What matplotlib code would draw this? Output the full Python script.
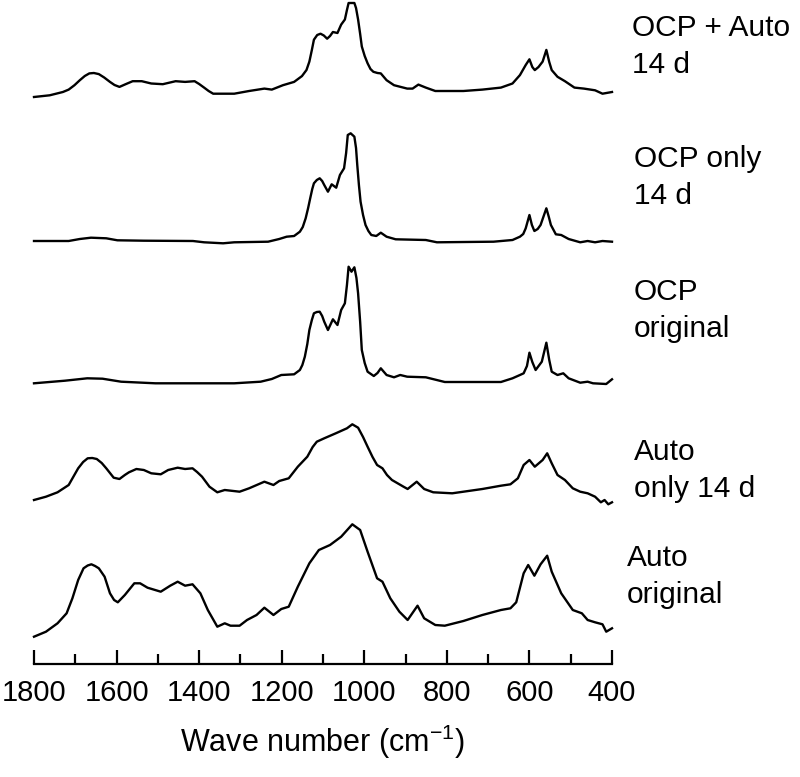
import matplotlib
matplotlib.use("Agg")
import matplotlib.pyplot as plt
import numpy as np

plt.rcParams['font.family'] = ['Liberation Sans', 'DejaVu Sans']
plt.rcParams['mathtext.fontset'] = 'custom'
plt.rcParams['mathtext.rm'] = 'Liberation Sans'
plt.rcParams['mathtext.it'] = 'Liberation Sans:italic'

# ---------------- data (wavenumber cm-1, relative absorbance) ----------------
wn_ocp_auto = [1800, 1762, 1730, 1716, 1702, 1689, 1677, 1666, 1655, 1643, 1630, 1616, 1605, 1593, 1577, 1561,
               1539, 1516, 1488, 1457, 1434, 1411, 1400, 1388, 1377, 1366, 1315, 1279, 1242, 1224, 1197, 1170,
               1151, 1140, 1133, 1127, 1122, 1114, 1106, 1098, 1090, 1083, 1076, 1065, 1056, 1047, 1042, 1038,
               1024, 1020, 1015, 1010, 1006, 999, 992, 985, 978, 968, 960, 946, 928, 896, 883, 869, 851, 828,
               760, 714, 669, 641, 623, 609, 600, 593, 587, 578, 568, 559, 552, 546, 532, 514, 491, 468, 441,
               423, 400]
ab_ocp_auto = [3.0, 4.7, 8.0, 10.4, 14.8, 19.8, 24.0, 26.6, 27.0, 25.9, 22.5, 18.1, 15.0, 13.1, 16.0, 18.8,
               18.8, 16.5, 15.8, 18.8, 18.1, 18.8, 16.0, 12.4, 9.0, 6.3, 6.3, 9.0, 11.4, 10.4, 14.8, 18.1,
               23.9, 30.0, 38.4, 50.0, 60.3, 65.0, 66.3, 64.5, 61.3, 64.0, 68.0, 67.0, 75.4, 80.5, 90.0, 97.0,
               97.0, 92.0, 80.5, 66.0, 53.5, 44.0, 36.7, 31.0, 28.2, 27.0, 26.6, 19.8, 14.8, 11.4, 11.4, 15.4, 12.4, 9.0,
               9.0, 10.4, 12.4, 16.5, 24.9, 35.0, 40.7, 33.0, 29.9, 33.0, 38.4, 50.1, 38.0, 29.9, 23.2, 18.8, 12.4, 11.4, 9.7,
               6.3, 8.0]

wn_ocp_14 = [1800, 1716, 1689, 1662, 1625, 1598, 1534, 1415, 1388, 1342, 1315, 1233, 1206, 1188, 1170,
             1156, 1149, 1142, 1136, 1131, 1126, 1122, 1115, 1108, 1102, 1097, 1088, 1079, 1068, 1059, 1049,
             1044, 1040, 1033, 1024, 1020, 1017, 1013, 1009, 1003, 997, 990, 983, 971, 960, 946, 924, 851,
             824, 687, 641, 623, 615, 609, 600, 594, 588, 580, 573, 559, 553, 548, 536, 523, 505, 477, 459,
             441, 423, 400]
ab_ocp_14 = [4.0, 4.0, 6.0, 7.3, 6.7, 4.7, 4.3, 4.0, 2.7, 1.7, 2.7, 3.3, 6.0, 8.3, 9.0,
             13.3, 18.0, 26.7, 37.0, 46.7, 56.0, 61.7, 65.0, 66.7, 64.0, 60.0, 53.3, 60.7, 57.3, 70.0, 76.7,
             92.0, 110.0, 111.7, 108.3, 97.0, 80.0, 60.0, 43.3, 30.0, 20.0, 14.0, 10.0, 9.0, 12.3, 8.3, 5.7, 5.0,
             2.7, 3.3, 5.0, 8.3, 11.0, 16.7, 30.0, 20.0, 14.0, 16.0, 20.0, 36.7, 28.0, 20.0, 10.7, 10.0, 6.0, 2.7, 4.0,
             2.7, 4.0, 3.3]

wn_ocp_orig = [1800, 1725, 1671, 1634, 1589, 1506, 1315, 1251, 1224, 1201, 1170, 1156, 1150, 1144, 1138,
               1133, 1127, 1122, 1115, 1108, 1102, 1097, 1088, 1076, 1065, 1056, 1047, 1042, 1038, 1031, 1024,
               1019, 1015, 1010, 1006, 999, 992, 977, 968, 960, 946, 928, 913, 896, 851, 805, 669, 641, 623,
               614, 606, 600, 593, 585, 570, 559, 552, 546, 532, 518, 505, 477, 459, 446, 414, 400]
ab_ocp_orig = [6.7, 9.3, 11.7, 11.3, 8.3, 6.7, 6.7, 8.3, 11.0, 15.0, 15.7, 20.0, 25.0, 33.3, 46.0,
               60.0, 70.0, 76.7, 78.0, 78.3, 74.0, 68.3, 60.0, 70.7, 65.0, 80.0, 86.7, 105.0, 123.3, 118.3, 122.7,
               112.0, 96.7, 68.0, 40.0, 27.0, 18.3, 14.0, 17.0, 21.7, 15.0, 12.7, 15.0, 13.3, 12.7, 8.0, 8.0, 11.7, 15.0,
               16.7, 24.0, 37.3, 28.0, 20.0, 28.3, 47.3, 30.0, 18.3, 15.0, 16.7, 11.7, 7.3, 8.3, 6.7, 6.0, 10.7]

wn_auto_14 = [1800, 1771, 1743, 1716, 1705, 1693, 1681, 1670, 1659, 1648, 1636, 1625, 1607, 1593, 1580, 1570,
              1552, 1534, 1516, 1493, 1475, 1452, 1434, 1416, 1405, 1393, 1375, 1356, 1338, 1302, 1279, 1242,
              1220, 1206, 1183, 1161, 1138, 1125, 1115, 1097, 1069, 1042, 1029, 1015, 1003, 992, 980, 969, 956,
              945, 933, 905, 895, 873, 855, 833, 787, 714, 669, 646, 628, 614, 600, 587, 568, 557, 546, 532,
              514, 495, 477, 459, 441, 427, 418, 409, 400]
ab_auto_14 = [10.0, 13.3, 17.7, 25.0, 33.0, 41.7, 48.0, 51.7, 52.0, 51.0, 47.0, 41.7, 32.3, 31.0, 35.0, 37.7,
              41.0, 40.0, 36.7, 35.7, 40.0, 42.3, 41.0, 41.7, 38.0, 33.3, 23.3, 17.7, 20.0, 18.3, 21.7, 28.3,
              25.0, 29.0, 31.7, 43.3, 53.3, 63.0, 68.3, 71.7, 76.7, 81.7, 85.7, 82.3, 73.0, 63.3, 53.0, 45.0, 41.7,
              35.0, 30.0, 23.3, 21.0, 28.3, 21.0, 17.7, 16.7, 21.0, 24.3, 25.7, 31.7, 45.0, 50.0, 43.3, 50.0, 56.7, 46.7, 35.0,
              30.0, 21.7, 18.3, 16.7, 13.3, 7.7, 10.0, 5.7, 7.7]

wn_auto_orig = [1800, 1771, 1743, 1721, 1707, 1693, 1680, 1670, 1661, 1652, 1643, 1629, 1616, 1606, 1597, 1580,
                1557, 1543, 1525, 1493, 1470, 1452, 1434, 1416, 1397, 1379, 1356, 1338, 1324, 1302, 1284, 1261,
                1242, 1220, 1201, 1183, 1161, 1133, 1110, 1083, 1056, 1029, 1010, 992, 969, 956, 937, 915, 895,
                871, 855, 828, 805, 760, 714, 669, 646, 632, 614, 603, 588, 573, 557, 546, 523, 495, 473,
                459, 441, 423, 414, 400]
ab_auto_orig = [3.3, 8.3, 16.7, 26.7, 41.7, 60.0, 71.7, 74.5, 75.7, 74.0, 71.7, 63.3, 46.7, 40.0, 37.7, 45.0,
                56.7, 56.7, 52.3, 48.3, 54.3, 58.3, 54.3, 55.7, 46.7, 30.0, 13.3, 16.7, 14.3, 14.3, 20.0, 25.0,
                32.3, 25.0, 31.0, 33.3, 53.3, 76.7, 90.0, 95.0, 103.3, 115.7, 110.0, 88.3, 61.7, 58.3, 41.7, 28.3, 20.0,
                34.3, 21.7, 15.0, 14.3, 19.0, 25.0, 30.0, 31.7, 37.7, 66.7, 75.0, 64.3, 75.7, 84.3, 68.3, 46.7, 30.0, 26.7,
                20.0, 17.7, 15.7, 8.3, 11.7]

labels = ["OCP + Auto\n14 d", "OCP only\n14 d", "OCP\noriginal", "Auto\nonly 14 d", "Auto\noriginal"]
xticks = [1800, 1600, 1400, 1200, 1000, 800, 600, 400]

# ---------------- figure ----------------
fig = plt.figure(figsize=(8.0, 7.77), dpi=100)
ax = fig.add_axes([34 / 800, 113 / 777, 578 / 800, 664 / 777])

series = [(wn_ocp_auto, ab_ocp_auto), (wn_ocp_14, ab_ocp_14), (wn_ocp_orig, ab_ocp_orig),
          (wn_auto_14, ab_auto_14), (wn_auto_orig, ab_auto_orig)]
offsets = [564, 419, 274, 154, 24]
label_pos = [(632, 36), (634, 167), (634, 300), (634, 460), (627, 566)]
line_gap = 37

for (wn, ab), off in zip(series, offsets):
    ax.plot(wn, np.asarray(ab) + off, color='black', lw=1.7, clip_on=False,
            solid_joinstyle='round')

for lab, (px, py) in zip(labels, label_pos):
    for i, line in enumerate(lab.split('\n')):
        fig.text(px / 800, 1 - (py + i * line_gap) / 777, line, fontsize=21.5,
                 ha='left', va='baseline')

ax.set_xlim(1800, 400)
ax.set_ylim(0, 664)
for s in ['top', 'right', 'left']:
    ax.spines[s].set_visible(False)
ax.spines['bottom'].set_linewidth(1.6)
ax.set_yticks([])
ax.set_xticks(xticks)
ax.set_xticks(np.arange(1700, 400, -200), minor=True)
ax.tick_params(axis='x', which='major', direction='in', length=10, width=1.6, labelsize=21, pad=11)
ax.tick_params(axis='x', which='minor', direction='in', length=7, width=1.6)
ax.set_xlabel('Wave number (cm$^{-1}$)', fontsize=22, labelpad=11)

fig.savefig('out.png', dpi=100)
